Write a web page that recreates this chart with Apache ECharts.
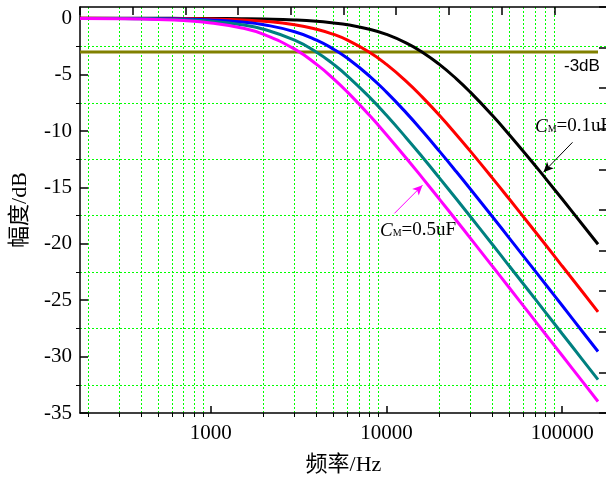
<!DOCTYPE html>
<html><head><meta charset="utf-8">
<script src="https://cdn.jsdelivr.net/npm/echarts@6/dist/echarts.min.js"></script>
<style>html,body{margin:0;padding:0;background:#fff}#c{width:606px;height:477px}</style>
</head><body><div id="c"></div>
<script>
// ---- data ----
const freq = [180, 300, 500, 700, 1000, 1500, 2000, 3000, 4000, 5000, 6000, 8000, 10000, 13000, 16000, 20000, 25000, 30000, 40000, 50000, 65000, 80000, 100000, 130000, 160000];
const dB_01uF = [0.00, 0.00, 0.00, -0.01, -0.02, -0.04, -0.07, -0.15, -0.26, -0.41, -0.57, -0.97, -1.43, -2.20, -3.01, -4.09, -5.37, -6.55, -8.60, -10.32, -12.43, -14.15, -16.03, -18.26, -20.04];
const dB_02uF = [0.00, -0.01, -0.02, -0.03, -0.07, -0.15, -0.26, -0.57, -0.97, -1.43, -1.94, -3.01, -4.09, -5.61, -6.99, -8.60, -10.32, -11.78, -14.15, -16.03, -18.26, -20.04, -21.97, -24.23, -26.03];
const dB_03uF = [-0.01, -0.01, -0.04, -0.07, -0.15, -0.33, -0.57, -1.19, -1.94, -2.74, -3.55, -5.12, -6.55, -8.41, -10.00, -11.78, -13.61, -15.14, -17.58, -19.49, -21.75, -23.54, -25.47, -27.75, -29.55];
const dB_04uF = [-0.01, -0.02, -0.07, -0.13, -0.26, -0.57, -0.97, -1.94, -3.01, -4.09, -5.12, -6.99, -8.60, -10.63, -12.30, -14.15, -16.03, -17.58, -20.04, -21.97, -24.23, -26.03, -27.97, -30.24, -32.04];
const dB_05uF = [-0.01, -0.04, -0.11, -0.20, -0.41, -0.86, -1.43, -2.74, -4.09, -5.37, -6.55, -8.60, -10.32, -12.43, -14.15, -16.03, -17.93, -19.49, -21.97, -23.89, -26.17, -27.97, -29.90, -32.18, -33.98];
const refFreq = [180, 160000];
const refDB = [-3, -3];
const xMajorTicks = [1000, 10000, 100000];
const xMinorTicks = [200, 300, 400, 500, 600, 700, 800, 900, 2000, 3000, 4000, 5000, 6000, 7000, 8000, 9000, 20000, 30000, 40000, 50000, 60000, 70000, 80000, 90000];
const yMajorTicks = [-35, -30, -25, -20, -15, -10, -5, 0];
const yMinorTicks = [-32.5, -27.5, -22.5, -17.5, -12.5, -7.5, -2.5];
const arrow01 = [[114500, -11.0], [78300, -13.65]];
const arrow05 = [[11100, -17.3], [16030, -14.8]];

const serif = "'Liberation Serif','Times New Roman','Noto Sans CJK SC',serif";
const rect = {left: 80, top: 7, width: 527, height: 406, outerBoundsMode: 'none'};
const axLine = {show: true, onZero: false, lineStyle: {color: '#000', width: 1.5}};
const noLine = {show: false, onZero: false};
const gridLine = {show: true, lineStyle: {color: '#00ff00', width: 1, type: [2, 2]}};
const fmt = v => String(Math.round(v));

function curve(name, vals, color, extra) {
  return Object.assign({
    type: 'line', name, xAxisIndex: 0, yAxisIndex: 0,
    data: freq.map((f, i) => [f, vals[i]]),
    showSymbol: false, smooth: 0.5,
    lineStyle: {color, width: 3}, itemStyle: {color}, z: 3, silent: true, animation: false
  }, extra || {});
}
function arrowLine(pts, color) {
  return {
    silent: true, animation: false, symbol: ['none', 'arrow'], symbolSize: [7, 10],
    label: {show: false}, lineStyle: {color, width: 1, type: 'solid'},
    data: [[{coord: pts[0]}, {coord: pts[1]}]]
  };
}
const richCM = {
  i: {fontFamily: serif, fontStyle: 'italic', fontSize: 19, fill: '#000'},
  s: {fontFamily: serif, fontSize: 10, fill: '#000', verticalAlign: 'bottom', padding: [0, 0, 2, 0]},
  n: {fontFamily: serif, fontSize: 19, fill: '#000'}
};

const chart = echarts.init(document.getElementById('c'));
chart.setOption({
  animation: false,
  backgroundColor: '#fff',
  grid: [Object.assign({}, rect), Object.assign({}, rect), Object.assign({}, rect)],
  xAxis: [
    {gridIndex: 0, type: 'log', min: 180, max: 180000, position: 'bottom',
     axisLine: axLine, splitLine: {show: false}, minorTick: {show: false},
     axisTick: {show: true, inside: true, length: 7, customValues: xMajorTicks, lineStyle: {color: '#000', width: 1.5}},
     axisLabel: {customValues: xMajorTicks, formatter: fmt, color: '#000', fontFamily: serif, fontSize: 21, margin: 10},
     name: '频率/Hz', nameLocation: 'middle', nameGap: 41,
     nameTextStyle: {color: '#000', fontFamily: serif, fontSize: 22}},
    {gridIndex: 1, type: 'log', min: 180, max: 180000, position: 'bottom',
     axisLine: noLine, axisLabel: {show: false},
     axisTick: {show: true, inside: false, length: 4, customValues: xMinorTicks, lineStyle: {color: '#000', width: 1}},
     splitLine: gridLine},
    {gridIndex: 2, type: 'value', min: 0, max: 10, interval: 1, position: 'top',
     axisLine: axLine, axisLabel: {show: false}, splitLine: {show: false},
     axisTick: {show: true, inside: true, length: 8, lineStyle: {color: '#000', width: 1.5}}}
  ],
  yAxis: [
    {gridIndex: 0, type: 'value', min: -35, max: 1, position: 'left',
     axisLine: axLine, splitLine: {show: false},
     axisTick: {show: true, inside: true, length: 8, customValues: yMajorTicks, lineStyle: {color: '#000', width: 1.5}},
     axisLabel: {customValues: yMajorTicks, color: '#000', fontFamily: serif, fontSize: 21, margin: 8},
     name: '幅度/dB', nameLocation: 'middle', nameGap: 49,
     nameTextStyle: {color: '#000', fontFamily: serif, fontSize: 22}},
    {gridIndex: 1, type: 'value', min: -35, max: 1, position: 'left',
     axisLine: noLine, axisLabel: {show: false},
     axisTick: {show: true, inside: false, length: 4, customValues: yMinorTicks, lineStyle: {color: '#000', width: 1}},
     splitLine: gridLine},
    {gridIndex: 2, type: 'value', min: 0, max: 10, interval: 1, position: 'right',
     axisLine: axLine, axisLabel: {show: false}, splitLine: {show: false},
     axisTick: {show: true, inside: true, length: 8, lineStyle: {color: '#000', width: 1.5}}}
  ],
  series: [
    {type: 'line', name: '-3dB', xAxisIndex: 0, yAxisIndex: 0,
     data: refFreq.map((f, i) => [f, refDB[i]]), showSymbol: false,
     lineStyle: {color: '#808000', width: 3}, z: 2, silent: true},
    curve('0.1uF', dB_01uF, '#000000', {markLine: arrowLine(arrow01, '#000')}),
    curve('0.2uF', dB_02uF, '#ff0000'),
    curve('0.3uF', dB_03uF, '#0000ff'),
    curve('0.4uF', dB_04uF, '#008080'),
    curve('0.5uF', dB_05uF, '#ff00ff', {markLine: arrowLine(arrow05, '#ff00ff')})
  ],
  graphic: [
    {type: 'text', left: 564, top: 58, z: 10,
     style: {text: '-3dB', font: "17px 'Liberation Sans', Arial, sans-serif", fill: '#000'}},
    {type: 'text', left: 535, top: 117, z: 10,
     style: {text: '{i|C}{s|M}{n|=0.1uF}', fill: '#000', rich: richCM}},
    {type: 'text', left: 380, top: 221, z: 10,
     style: {text: '{i|C}{s|M}{n|=0.5uF}', fill: '#000', rich: richCM}}
  ]
});
</script></body></html>
